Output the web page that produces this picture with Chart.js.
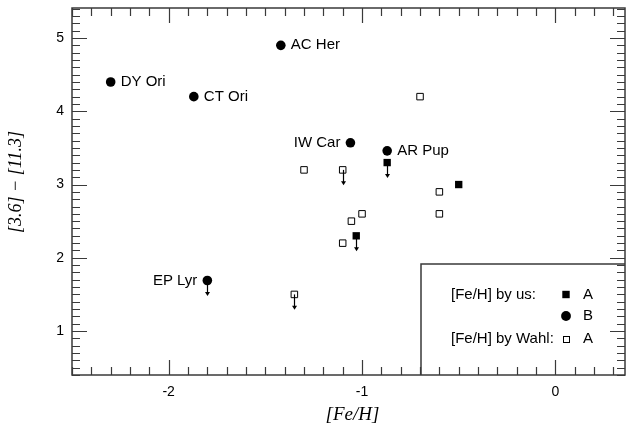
<!DOCTYPE html>
<html>
<head>
<meta charset="utf-8">
<script src="https://cdn.jsdelivr.net/npm/chart.js@4/dist/chart.umd.min.js"></script>
<style>
  html, body { margin: 0; padding: 0; background: #fff; }
  #wrap { width: 632px; height: 426px; }
</style>
</head>
<body>
<div id="wrap"><canvas id="c" width="632" height="426"></canvas></div>
<script>
const xTicks = [-2, -1, 0];
const yTicks = [1, 2, 3, 4, 5];

// class B stars, [Fe/H] by us
const starNames = ["DY Ori", "CT Ori", "AC Her", "IW Car", "AR Pup", "EP Lyr"];
const starSide = ["right", "right", "right", "left", "right", "left"];
const bFe = [-2.30, -1.87, -1.42, -1.06, -0.87, -1.80];
const bColor = [4.40, 4.20, 4.90, 3.57, 3.46, 1.69];
const bLimit = [false, false, false, false, false, true];

// class A, [Fe/H] by us
const aFe = [-0.87, -0.50, -1.03];
const aColor = [3.30, 3.00, 2.30];
const aLimit = [true, false, true];

// class A, [Fe/H] by Wahl
const wFe = [-1.30, -1.10, -0.70, -0.60, -0.60, -1.00, -1.055, -1.10, -1.35];
const wColor = [3.20, 3.20, 4.20, 2.90, 2.60, 2.60, 2.50, 2.20, 1.50];
const wLimit = [false, true, false, false, false, false, false, false, true];

const pts = (xs, ys) => xs.map((x, i) => ({ x: x, y: ys[i] }));

const FONT = '"Liberation Sans", Arial, Helvetica, sans-serif';
const LINE = "#3a3a3a";

function arrow(ctx, x, y1, y2) {
  ctx.beginPath();
  ctx.moveTo(x, y1);
  ctx.lineTo(x, y2 - 3);
  ctx.stroke();
  ctx.beginPath();
  ctx.moveTo(x - 2.5, y2 - 4);
  ctx.lineTo(x + 2.5, y2 - 4);
  ctx.lineTo(x, y2);
  ctx.closePath();
  ctx.fill();
}

const decor = {
  id: "decor",
  afterDatasetsDraw(chart) {
    const ctx = chart.ctx;
    const a = chart.chartArea;
    const xs = chart.scales.x, ys = chart.scales.y;
    ctx.save();

    // frame
    ctx.strokeStyle = LINE;
    ctx.lineWidth = 1.5;
    ctx.strokeRect(a.left, a.top, a.right - a.left, a.bottom - a.top);

    // inward ticks
    ctx.lineWidth = 1.2;
    ctx.beginPath();
    for (let i = -25; i <= 3; i++) {
      const px = Math.round(xs.getPixelForValue(i / 10)) + 0.5;
      const len = i % 10 === 0 ? 15 : 8;
      ctx.moveTo(px, a.bottom); ctx.lineTo(px, a.bottom - len);
      ctx.moveTo(px, a.top); ctx.lineTo(px, a.top + len);
    }
    for (let i = 4; i <= 54; i++) {
      const py = Math.round(ys.getPixelForValue(i / 10)) + 0.5;
      const len = i % 10 === 0 ? 15 : 8;
      ctx.moveTo(a.left, py); ctx.lineTo(a.left + len, py);
      ctx.moveTo(a.right, py); ctx.lineTo(a.right - len, py);
    }
    ctx.stroke();

    // upper limit arrows
    ctx.strokeStyle = "#000";
    ctx.fillStyle = "#000";
    ctx.lineWidth = 1.2;
    [[bFe, bColor, bLimit], [aFe, aColor, aLimit], [wFe, wColor, wLimit]].forEach(([fx, fy, lim]) => {
      fx.forEach((v, i) => {
        if (!lim[i]) return;
        const px = Math.round(xs.getPixelForValue(v)) + 0.5;
        arrow(ctx, px, ys.getPixelForValue(fy[i]), ys.getPixelForValue(fy[i] - 0.21));
      });
    });

    // star names
    ctx.font = "15px " + FONT;
    ctx.textBaseline = "middle";
    starNames.forEach((n, i) => {
      const px = xs.getPixelForValue(bFe[i]);
      const py = ys.getPixelForValue(bColor[i]);
      if (starSide[i] === "left") {
        ctx.textAlign = "right";
        ctx.fillText(n, px - 10, py);
      } else {
        ctx.textAlign = "left";
        ctx.fillText(n, px + 10, py);
      }
    });

    // legend box
    const lx = a.left + 349, ly = a.top + 256;
    ctx.strokeStyle = LINE;
    ctx.lineWidth = 1.5;
    ctx.beginPath();
    ctx.moveTo(lx, a.bottom);
    ctx.lineTo(lx, ly);
    ctx.lineTo(a.right, ly);
    ctx.stroke();

    const tx = lx + 30, mx = lx + 145, kx = lx + 167;
    const rows = [ly + 30.5, ly + 52, ly + 75];
    ctx.fillStyle = "#000";
    ctx.textAlign = "left";
    ctx.fillText("[Fe/H] by us:", tx, rows[0]);
    ctx.fillText("[Fe/H] by Wahl:", tx, rows[2]);
    ctx.fillRect(mx - 3.7, rows[0] - 3.7, 7.4, 7.4);
    ctx.beginPath();
    ctx.arc(mx, rows[1], 4.9, 0, Math.PI * 2);
    ctx.fill();
    ctx.strokeStyle = "#000";
    ctx.lineWidth = 1;
    ctx.strokeRect(Math.round(mx) - 3 + 0.5, Math.round(rows[2]) - 3 + 0.5, 6, 6);
    ctx.textAlign = "center";
    ctx.fillText("A", kx, rows[0]);
    ctx.fillText("B", kx, rows[1]);
    ctx.fillText("A", kx, rows[2]);

    // axis titles
    ctx.font = 'italic 19px "Liberation Serif", "Times New Roman", serif';
    ctx.textAlign = "center";
    ctx.fillText("[Fe/H]", (a.left + a.right) / 2 + 4, 415);

    ctx.translate(16, 182);
    ctx.rotate(-Math.PI / 2);
    ctx.font = 'italic 18px "Liberation Serif", "Times New Roman", serif';
    ctx.fillText("[3.6] \u2212 [11.3]", 0, 0);
    ctx.restore();
  }
};

new Chart(document.getElementById("c"), {
  type: "scatter",
  data: {
    datasets: [
      {
        label: "B (us)",
        data: pts(bFe, bColor),
        pointStyle: "circle",
        pointRadius: 4.8,
        backgroundColor: "#000",
        borderColor: "#000",
        borderWidth: 0
      },
      {
        label: "A (us)",
        data: pts(aFe, aColor),
        pointStyle: "rect",
        pointRadius: 5.2,
        backgroundColor: "#000",
        borderColor: "#000",
        borderWidth: 0
      },
      {
        label: "A (Wahl)",
        data: pts(wFe, wColor),
        pointStyle: "rect",
        pointRadius: 4.6,
        backgroundColor: "#fff",
        borderColor: "#000",
        borderWidth: 1
      }
    ]
  },
  options: {
    responsive: false,
    animation: false,
    events: [],
    layout: { padding: { top: 8, right: 7, left: 0, bottom: 0 } },
    plugins: { legend: { display: false }, tooltip: { enabled: false } },
    scales: {
      x: {
        type: "linear",
        min: -2.5,
        max: 0.36,
        grid: { display: false, drawTicks: false },
        border: { display: false },
        afterFit: s => { s.height = 51; s.paddingLeft = 0; s.paddingRight = 0; },
        afterBuildTicks: s => { s.ticks = xTicks.map(v => ({ value: v })); },
        ticks: {
          color: "#000",
          padding: 9,
          font: { family: FONT, size: 14 },
          callback: v => String(v)
        }
      },
      y: {
        type: "linear",
        min: 0.4,
        max: 5.41,
        grid: { display: false, drawTicks: false },
        border: { display: false },
        afterFit: s => { s.width = 72; s.paddingTop = 0; s.paddingBottom = 0; },
        afterBuildTicks: s => { s.ticks = yTicks.map(v => ({ value: v })); },
        ticks: {
          color: "#000",
          padding: 8,
          font: { family: FONT, size: 14 },
          callback: v => String(v)
        }
      }
    }
  },
  plugins: [decor]
});
</script>
</body>
</html>
